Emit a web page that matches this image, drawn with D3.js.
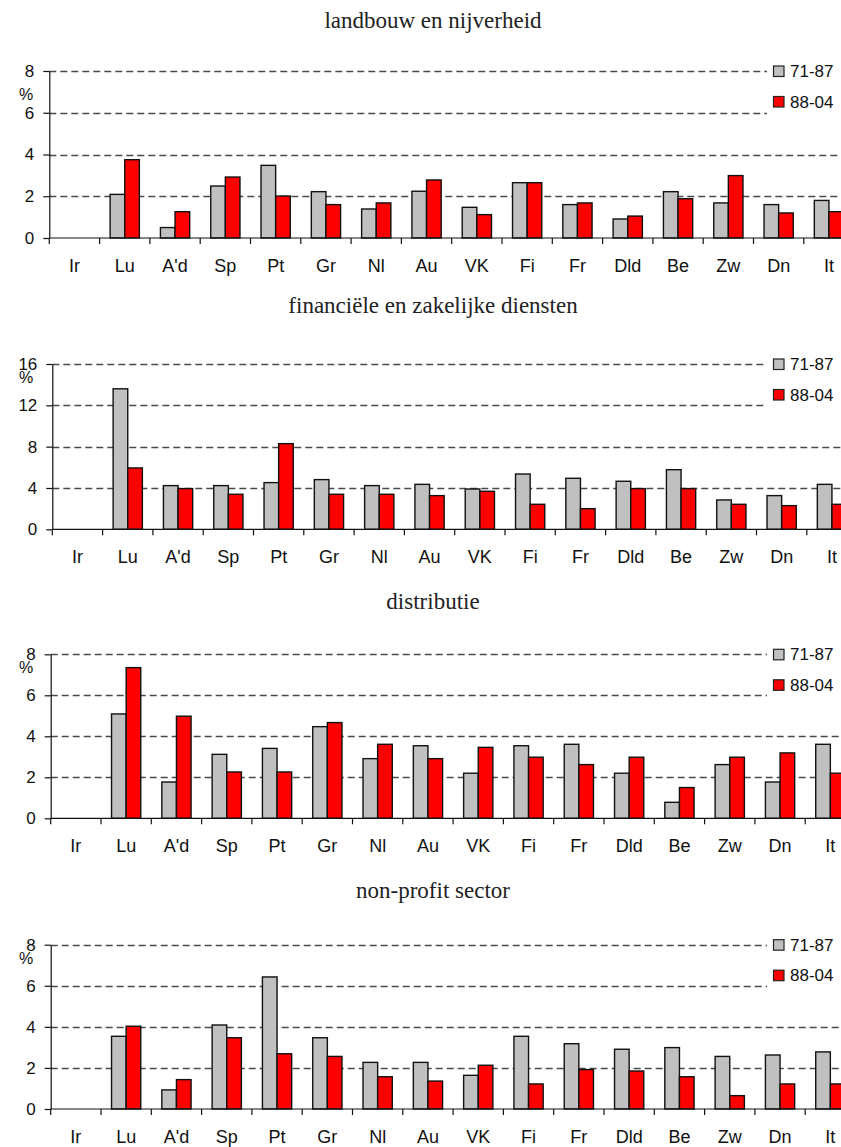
<!DOCTYPE html>
<html>
<head>
<meta charset="utf-8">
<script src="https://cdn.jsdelivr.net/npm/d3@7"></script>
<style>
  body { margin: 0; background: #fff; }
  svg { display: block; }
</style>
</head>
<body>
<div id="chart"></div>
<script>
// landen (x-as)
var countries = ["Ir", "Lu", "A'd", "Sp", "Pt", "Gr", "Nl", "Au", "VK", "Fi", "Fr", "Dld", "Be", "Zw", "Dn", "It"];
var seriesNames = ["71-87", "88-04"];

var titles = ["landbouw en nijverheid", "financiële en zakelijke diensten", "distributie", "non-profit sector"];
var yMax = [8, 16, 8, 8];
var yStep = [2, 4, 2, 2];

// groei in %, per sector: eerst 71-87, dan 88-04
var landbouw7187 = [0, 2.09, 0.5, 2.49, 3.48, 2.22, 1.39, 2.24, 1.47, 2.65, 1.6, 0.91, 2.22, 1.68, 1.6, 1.8];
var landbouw8804 = [0, 3.75, 1.26, 2.92, 2.01, 1.6, 1.68, 2.78, 1.12, 2.65, 1.68, 1.05, 1.88, 2.99, 1.2, 1.26];

var financieel7187 = [0, 13.6, 4.23, 4.23, 4.52, 4.81, 4.23, 4.35, 3.9, 5.35, 4.94, 4.65, 5.77, 2.84, 3.26, 4.35];
var financieel8804 = [0, 5.94, 3.94, 3.39, 8.29, 3.39, 3.39, 3.26, 3.68, 2.42, 2.0, 3.94, 3.94, 2.42, 2.29, 2.42];

var distributie7187 = [0, 5.09, 1.77, 3.12, 3.41, 4.47, 2.91, 3.54, 2.2, 3.54, 3.61, 2.2, 0.78, 2.62, 1.77, 3.61];
var distributie8804 = [0, 7.35, 4.98, 2.26, 2.26, 4.67, 3.61, 2.91, 3.46, 2.98, 2.62, 2.98, 1.5, 2.98, 3.19, 2.2];

var nonprofit7187 = [0, 3.54, 0.93, 4.09, 6.43, 3.47, 2.27, 2.27, 1.64, 3.54, 3.18, 2.91, 2.99, 2.56, 2.63, 2.78];
var nonprofit8804 = [0, 4.03, 1.43, 3.47, 2.69, 2.56, 1.57, 1.36, 2.13, 1.22, 1.92, 1.85, 1.57, 0.65, 1.22, 1.22];

var panelData = [
	[landbouw7187, landbouw8804],
	[financieel7187, financieel8804],
	[distributie7187, distributie8804],
	[nonprofit7187, nonprofit8804]
];

var colors = { "71-87": "#c0c0c0", "88-04": "#ff0000" };

var W = 841, H = 1147;
var sansFont = "'Liberation Sans', Arial, sans-serif";
var serifFont = "'Liberation Serif', 'Times New Roman', serif";

// plot-vakken (as-positie, boven, onder, titel-basislijn)
var frames = [
	{ left: 49.3, top: 71, bottom: 238, titleY: 28 },
	{ left: 52.3, top: 364, bottom: 529.3, titleY: 313 },
	{ left: 50.7, top: 654.3, bottom: 818.3, titleY: 609 },
	{ left: 50.7, top: 944.7, bottom: 1109, titleY: 898 }
];
var bandStep = 50.3;

var svg = d3.select("#chart").append("svg")
	.attr("width", W)
	.attr("height", H);

frames.forEach(function (f, i) {
	var g = svg.append("g");

	var x = d3.scaleBand()
		.domain(countries)
		.range([f.left, f.left + bandStep * countries.length])
		.paddingInner(0).paddingOuter(0);

	var xs = d3.scaleBand()
		.domain(seriesNames)
		.range([0, x.bandwidth()])
		.paddingInner(0)
		.paddingOuter(0.72);

	var y = d3.scaleLinear()
		.domain([0, yMax[i]])
		.range([f.bottom, f.top]);

	var ticks = d3.range(0, yMax[i] + 0.001, yStep[i]);

	// titel
	g.append("text")
		.attr("x", 433)
		.attr("y", f.titleY)
		.attr("text-anchor", "middle")
		.style("font-family", serifFont)
		.style("font-size", "23px")
		.attr("fill", "#222")
		.text(titles[i]);

	// gestippelde hulplijnen
	g.selectAll("line.grid")
		.data(ticks.filter(function (t) { return t > 0; }))
		.enter().append("line")
		.attr("class", "grid")
		.attr("x1", f.left)
		.attr("x2", W + 20)
		.attr("y1", function (d) { return Math.round(y(d)) + 0.5; })
		.attr("y2", function (d) { return Math.round(y(d)) + 0.5; })
		.attr("stroke", "#4a4a4a")
		.attr("stroke-width", 1.3)
		.attr("stroke-dasharray", "7,4");

	// staven
	var rows = countries.map(function (c, k) {
		return { country: c, values: seriesNames.map(function (s, j) { return { key: s, value: panelData[i][j][k] }; }) };
	});

	var groups = g.selectAll("g.country")
		.data(rows)
		.enter().append("g")
		.attr("class", "country")
		.attr("transform", function (d) { return "translate(" + x(d.country) + ",0)"; });

	groups.selectAll("rect")
		.data(function (d) { return d.values.filter(function (v) { return v.value > 0; }); })
		.enter().append("rect")
		.attr("x", function (d) { return xs(d.key); })
		.attr("y", function (d) { return y(d.value); })
		.attr("width", xs.bandwidth())
		.attr("height", function (d) { return y(0) - y(d.value); })
		.attr("fill", function (d) { return colors[d.key]; })
		.attr("stroke", "#111")
		.attr("stroke-width", 1.4);

	// legenda (witte achtergrond onderbreekt de bovenste hulplijnen)
	var leg = g.append("g");
	leg.append("rect")
		.attr("x", 767)
		.attr("y", f.top - 12)
		.attr("width", 100)
		.attr("height", 60)
		.attr("fill", "#fff");
	seriesNames.forEach(function (s, j) {
		var cy = f.top + j * 30.5;
		leg.append("rect")
			.attr("x", 773.5)
			.attr("y", cy - 5)
			.attr("width", 10.5)
			.attr("height", 10.5)
			.attr("fill", colors[s])
			.attr("stroke", "#222")
			.attr("stroke-width", 1.2);
		leg.append("text")
			.attr("x", 790)
			.attr("y", cy + 6)
			.style("font-family", sansFont)
			.style("font-size", "17px")
			.attr("fill", "#111")
			.text(s);
	});

	// y-as
	var yAxis = g.append("g")
		.attr("transform", "translate(" + f.left + ",0)")
		.call(d3.axisLeft(y).tickValues(ticks).tickSize(6).tickSizeOuter(0).tickPadding(9).tickFormat(d3.format("d")));
	yAxis.select(".domain").attr("stroke", "#111").attr("stroke-width", 1.2);
	yAxis.selectAll(".tick line").attr("stroke", "#111").attr("stroke-width", 1.2);
	yAxis.selectAll(".tick text")
		.style("font-family", sansFont)
		.style("font-size", "17px")
		.attr("fill", "#111");

	g.append("text")
		.attr("x", 26)
		.attr("y", f.top + (i === 0 ? 29 : 19))
		.attr("text-anchor", "middle")
		.style("font-family", sansFont)
		.style("font-size", "16px")
		.attr("fill", "#111")
		.text("%");

	// x-as met streepjes op de grenzen tussen landen
	g.append("line")
		.attr("x1", f.left)
		.attr("x2", W + 20)
		.attr("y1", y(0))
		.attr("y2", y(0))
		.attr("stroke", "#111")
		.attr("stroke-width", 1.2);

	var bounds = countries.map(function (c) { return x(c); }).concat([x.range()[1]]);
	g.selectAll("line.xtick")
		.data(bounds)
		.enter().append("line")
		.attr("class", "xtick")
		.attr("x1", function (d) { return d; })
		.attr("x2", function (d) { return d; })
		.attr("y1", y(0))
		.attr("y2", y(0) + 6)
		.attr("stroke", "#111")
		.attr("stroke-width", 1.2);

	g.selectAll("text.xlabel")
		.data(countries)
		.enter().append("text")
		.attr("class", "xlabel")
		.attr("x", function (d) { return x(d) + x.bandwidth() / 2; })
		.attr("y", y(0) + 34)
		.attr("text-anchor", "middle")
		.style("font-family", sansFont)
		.style("font-size", "18px")
		.attr("fill", "#111")
		.text(function (d) { return d; });
});
</script>
</body>
</html>
